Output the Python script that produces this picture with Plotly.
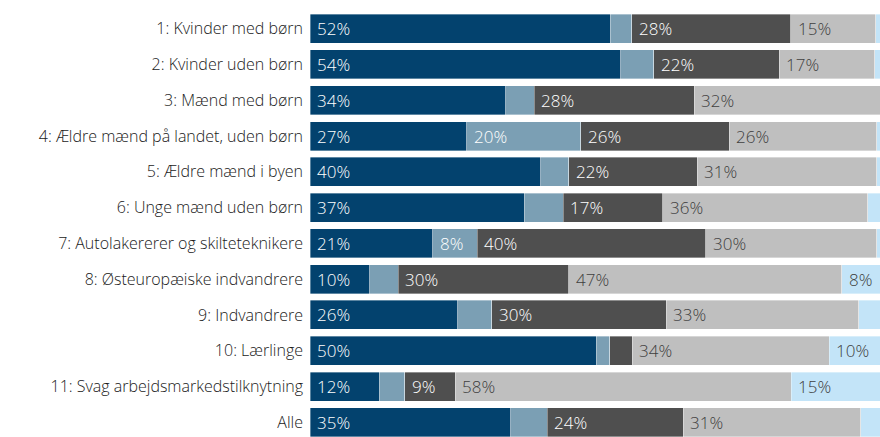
import plotly.graph_objects as go

categories = [
    "1: Kvinder med børn",
    "2: Kvinder uden børn",
    "3: Mænd med børn",
    "4: Ældre mænd på landet, uden børn",
    "5: Ældre mænd i byen",
    "6: Unge mænd uden børn",
    "7: Autolakererer og skilteteknikere",
    "8: Østeuropæiske indvandrere",
    "9: Indvandrere",
    "10: Lærlinge",
    "11: Svag arbejdsmarkedstilknytning",
    "Alle",
]

# segment values (%) per category, left to right
seg1 = [52.1, 53.9, 34.0, 27.2, 40.0, 37.2, 21.3, 10.4, 25.6, 49.7, 12.0, 34.8]
seg2 = [3.7, 5.7, 4.9, 19.8, 4.9, 6.7, 7.7, 4.9, 5.9, 2.3, 4.4, 6.4]
seg3 = [27.6, 21.8, 27.8, 25.7, 22.3, 17.3, 39.7, 29.6, 30.3, 3.9, 8.8, 23.6]
seg4 = [14.8, 16.6, 32.2, 25.6, 31.1, 35.6, 29.6, 47.4, 33.4, 34.2, 58.3, 30.8]
seg5 = [1.8, 2.0, 1.1, 1.7, 1.7, 3.2, 1.7, 7.7, 4.8, 9.9, 15.4, 4.4]

series = [seg1, seg2, seg3, seg4, seg5]
colors = ["#03426E", "#7B9FB4", "#4F4F4F", "#BFBFBF", "#C3E4F8"]
text_colors = ["#FFFFFF", "#FFFFFF", "#FFFFFF", "#404040", "#404040"]
label_min = 7.5

FONT = "Open Sans"

fig = go.Figure()
for vals, col in zip(series, colors):
    fig.add_trace(go.Bar(
        y=categories, x=vals, orientation="h",
        marker=dict(color=col, line=dict(color="rgba(255,255,255,0.6)", width=0.6)),
        hoverinfo="skip", showlegend=False,
    ))

annotations = []
for i, cat in enumerate(categories):
    start = 0.0
    for vals, tcol in zip(series, text_colors):
        v = vals[i]
        if v >= label_min:
            annotations.append(dict(
                x=start, y=cat, xref="x", yref="y",
                text=f"{v:.0f}%", showarrow=False,
                xanchor="left", yanchor="middle", xshift=5,
                font=dict(family=FONT, size=17, color=tcol, weight=300),
            ))
        start += v

fig.update_layout(
    width=880, height=437,
    barmode="stack", bargap=0.19,
    margin=dict(l=310, r=0, t=0, b=0, autoexpand=False),
    plot_bgcolor="white", paper_bgcolor="white",
    font=dict(family=FONT, size=16, color="#1a1a1a", weight=300),
    annotations=annotations,
    xaxis=dict(range=[0, 98.9], visible=False, fixedrange=True),
    yaxis=dict(
        type="category", categoryarray=categories, categoryorder="array",
        range=[11.41, -0.80], showgrid=False, zeroline=False, showline=False,
        ticks="", ticklabelstandoff=6,
        tickfont=dict(family=FONT, size=16, color="#1a1a1a", weight=300),
        automargin=False, fixedrange=True,
    ),
)

fig.write_html(
    "out.html",
    config={"displayModeBar": False, "staticPlot": True},
    post_script="document.body.style.margin='0';document.body.style.overflow='hidden';",
)
